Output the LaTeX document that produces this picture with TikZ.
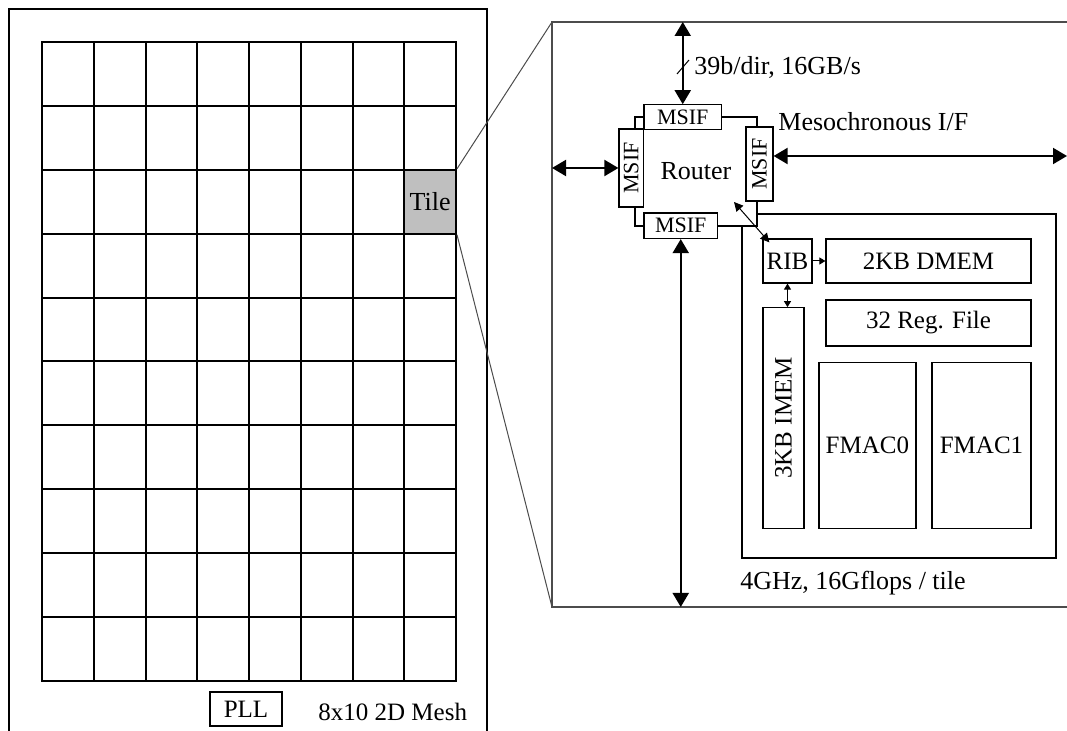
\documentclass[tikz,border=0pt]{standalone}
\usepackage{fontspec}
\setmainfont{Liberation Serif}
\usetikzlibrary{arrows.meta,positioning}

\begin{document}
\begin{tikzpicture}[x=0.5pt,y=-0.5pt,
  bx/.style={draw,fill=white,inner sep=0pt,line width=0.6pt,font=\fontsize{12.5}{14}\selectfont},
  ms/.style={bx,font=\fontsize{11}{12}\selectfont},
  thk/.style={line width=1pt},
  big/.style={line width=1pt,{Triangle[length=7pt,width=8pt]}-{Triangle[length=7pt,width=8pt]}},
  sml/.style={line width=0.5pt,{Triangle[length=3pt,width=3.5pt]}-{Triangle[length=3pt,width=3.5pt]}},
  lbl/.style={anchor=west,inner sep=0pt,font=\fontsize{13}{15}\selectfont}]
\useasboundingbox (0,0) rectangle (1067,731);
% chip with the 8x10 mesh
\draw[thk] (9,731) -- (9,9) -- (487,9) -- (487,731);
\draw[thk] (42,42) rectangle (456,681);
\foreach \i in {1,...,7} \draw[thk] (42+\i*51.75,42) -- (42+\i*51.75,681);
\foreach \j in {1,...,9} \draw[thk] (42,42+\j*63.9) -- (456,42+\j*63.9);
\node[draw,thk,fill=black!25,inner sep=0pt,minimum width=25.875pt,minimum height=31.95pt,
  font=\fontsize{13}{15}\selectfont] (tile) at (430.1,201.8) {Tile};
\node[bx,thk,minimum width=36pt,minimum height=17pt] (pll) at (246,709) {PLL};
\node[lbl,font=\fontsize{12.5}{14}\selectfont] (mesh) at (318,712) {8x10 2D Mesh};
% zoomed tile
\coordinate (dtl) at (552,22); \coordinate (dbl) at (552,607);
\coordinate (dtr) at (1067,22); \coordinate (dbr) at (1067,607);
\draw[black!70,line width=0.5pt] (tile.north east) -- (dtl);
\draw[black!70,line width=0.5pt] (tile.south east) -- (dbl);
\draw[black!70,line width=0.6pt] (dtr) -- (dtl) -- (dbl) -- (dbr);
\node[draw,thk,inner sep=0pt,minimum width=157pt,minimum height=171.8pt] (pe) at (899,385.8) {};
\node[bx,thk,minimum width=61pt,minimum height=54.5pt,font=\fontsize{13}{15}\selectfont] (router) at (696,171.5) {Router};
\node[ms,minimum width=38.75pt,minimum height=12.5pt] (msift) at (682.75,117.3) {MSIF};
\node[ms,rotate=90,minimum width=39pt,minimum height=12.25pt] (msifl) at (631.25,168) {MSIF};
\node[ms,rotate=90,minimum width=37pt,minimum height=13.5pt] (msifr) at (759.5,164) {MSIF};
\node[ms,minimum width=36.75pt,minimum height=12.75pt] (msifb) at (680.75,225.75) {MSIF};
\draw[big] (msift.north |- dtl) -- (msift.north);
\draw[line width=0.5pt] (677,74) -- (689,60);
\node[lbl] (bw) at (694,67) {39b/dir, 16GB/s};
\draw[big] (dtl |- msifl.north) -- (msifl.north);
\coordinate (rin) at (1067,156);
\draw[big] (rin -| msifr.south) -- (rin);
\node[lbl] (meso) at (778,122) {Mesochronous I/F};
\draw[big] (msifb.south) -- (msifb.south |- dbl);
% processing engine
\node[bx,minimum width=24.5pt,minimum height=22pt] (rib) at (787.5,261) {RIB};
\node[bx,minimum width=102.5pt,minimum height=22pt] (dmem) at (928.5,261) {2KB DMEM};
\node[bx,minimum width=102.5pt,minimum height=23pt] (rf) at (928.5,323) {32 Reg. File};
\node[bx,rotate=90,minimum width=110.25pt,minimum height=20.5pt] (imem) at (783.5,418) {3KB IMEM};
\node[bx,minimum width=48.5pt,minimum height=83pt] (fmac0) at (867.4,445.2) {FMAC0};
\node[bx,minimum width=49.5pt,minimum height=83pt] (fmac1) at (981.5,445.2) {FMAC1};
\draw[line width=0.5pt,{Triangle[length=4.5pt,width=4.5pt]}-{Triangle[length=4.5pt,width=4.5pt]}]
  ([shift={(-24,-25)}]router.south east) -- ([shift={(7,4)}]rib.north west);
\draw[line width=0.5pt,-{Triangle[length=3pt,width=3.5pt]}] (rib.east) -- (dmem.west);
\draw[sml] (rib.south) -- (rib.south |- imem.east);
\node[lbl] (freq) at (740,583) {4GHz, 16Gflops / tile};
\end{tikzpicture}
\end{document}
